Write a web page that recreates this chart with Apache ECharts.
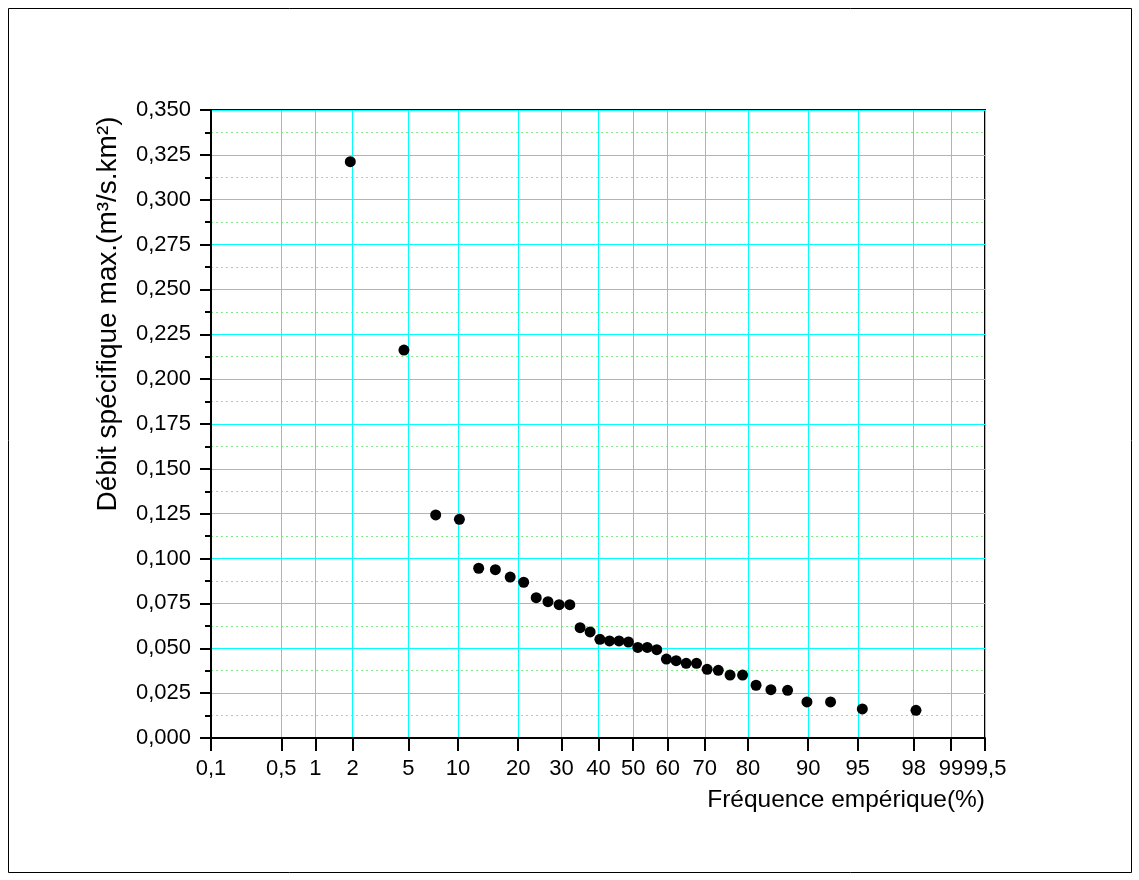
<!DOCTYPE html>
<html>
<head>
<meta charset="utf-8">
<script src="https://cdn.jsdelivr.net/npm/echarts@6/dist/echarts.min.js"></script>
<style>html,body{margin:0;padding:0;background:#fff;}#chart{width:1139px;height:880px;}</style>
</head>
<body>
<div id="chart"></div>
<script>
// Empirical frequency (%) of each observation
const frequence = [1.92, 4.67, 7.42, 10.17, 12.91, 15.66, 18.41, 21.15, 23.90, 26.65, 29.40, 32.14,
  34.89, 37.64, 40.38, 43.13, 45.88, 48.63, 51.37, 54.12, 56.87, 59.62, 62.36, 65.11,
  67.86, 70.60, 73.35, 76.10, 78.85, 81.59, 84.34, 87.09, 89.84, 92.58, 95.33, 98.08];
// Specific max discharge (m3/s.km2)
const debit = [0.3212, 0.2162, 0.1243, 0.1219, 0.0946, 0.0938, 0.0897, 0.0868, 0.0782, 0.0760, 0.0743, 0.0743,
  0.0615, 0.0591, 0.0550, 0.0541, 0.0541, 0.0535, 0.0505, 0.0505, 0.0492, 0.0440, 0.0431, 0.0416,
  0.0416, 0.0383, 0.0377, 0.0351, 0.0351, 0.0294, 0.0269, 0.0266, 0.0201, 0.0201, 0.0162, 0.0154];
// Probability-axis ticks (%)
const tickPercents = [0.1, 0.5, 1, 2, 5, 10, 20, 30, 40, 50, 60, 70, 80, 90, 95, 98, 99, 99.5];
const tickLabels = ['0,1', '0,5', '1', '2', '5', '10', '20', '30', '40', '50', '60', '70', '80', '90', '95', '98', '99', '99,5'];
const xMinPercent = 0.1, xMaxPercent = 99.5;
const yMin = 0, yMax = 0.35, yStep = 0.025;

// Normal probability scale (inverse normal CDF, Acklam)
function probit(p) {
  const a = [-3.969683028665376e+01, 2.209460984245205e+02, -2.759285104469687e+02, 1.383577518672690e+02, -3.066479806614716e+01, 2.506628277459239e+00];
  const b = [-5.447609879822406e+01, 1.615858368580409e+02, -1.556989798598866e+02, 6.680131188771972e+01, -1.328068155288572e+01];
  const c = [-7.784894002430293e-03, -3.223964580411365e-01, -2.400758277161838e+00, -2.549732539343734e+00, 4.374664141464968e+00, 2.938163982698783e+00];
  const d = [7.784695709041462e-03, 3.224671290700398e-01, 2.445134137142996e+00, 3.754408661907416e+00];
  const pl = 0.02425, ph = 1 - pl;
  let q, r;
  if (p < pl) {
    q = Math.sqrt(-2 * Math.log(p));
    return (((((c[0]*q+c[1])*q+c[2])*q+c[3])*q+c[4])*q+c[5]) / ((((d[0]*q+d[1])*q+d[2])*q+d[3])*q+1);
  }
  if (p <= ph) {
    q = p - 0.5; r = q * q;
    return (((((a[0]*r+a[1])*r+a[2])*r+a[3])*r+a[4])*r+a[5])*q / (((((b[0]*r+b[1])*r+b[2])*r+b[3])*r+b[4])*r+1);
  }
  q = Math.sqrt(-2 * Math.log(1 - p));
  return -(((((c[0]*q+c[1])*q+c[2])*q+c[3])*q+c[4])*q+c[5]) / ((((d[0]*q+d[1])*q+d[2])*q+d[3])*q+1);
}
const tickZ = tickPercents.map(p => probit(p / 100));
const FONT = "'Liberation Sans', Arial, sans-serif";

const chart = echarts.init(document.getElementById('chart'), null, {renderer: 'canvas'});
chart.setOption({
  backgroundColor: '#fff',
  animation: false,
  grid: {left: 211, right: 154, top: 110, bottom: 142, show: true, borderColor: '#000', borderWidth: 2, backgroundColor: 'transparent'},
  xAxis: {
    type: 'value',
    min: probit(xMinPercent / 100),
    max: probit(xMaxPercent / 100),
    axisLine: {show: true, onZero: false, lineStyle: {color: '#000', width: 2}},
    axisTick: {show: true, customValues: tickZ, length: 13, lineStyle: {color: '#000', width: 2}},
    axisLabel: {
      show: true, customValues: tickZ, margin: 20, color: '#000', fontSize: 22, fontFamily: FONT,
      formatter: function (v) {
        let best = 0, bd = Infinity;
        tickZ.forEach((z, i) => { const dd = Math.abs(z - v); if (dd < bd) { bd = dd; best = i; } });
        return tickLabels[best];
      }
    },
    splitLine: {show: true, lineStyle: {color: '#00ffff', width: 1}}
  },
  yAxis: {
    type: 'value',
    min: yMin, max: yMax, interval: yStep,
    axisLine: {show: true, onZero: false, lineStyle: {color: '#000', width: 2}},
    axisTick: {show: true, length: 11, lineStyle: {color: '#000', width: 2}},
    minorTick: {show: true, splitNumber: 2, length: 6, lineStyle: {color: '#000', width: 2}},
    axisLabel: {
      margin: 20, color: '#000', fontSize: 22, fontFamily: FONT,
      formatter: v => v.toFixed(3).replace('.', ',')
    },
    splitLine: {show: true, lineStyle: {color: '#00ffff', width: 1}},
    minorSplitLine: {show: true, lineStyle: {color: '#88e888', width: 1, type: [2, 3]}}
  },
  graphic: [
    {type: 'rect', shape: {x: 8.5, y: 8.5, width: 1123, height: 864}, style: {fill: 'none', stroke: '#000', lineWidth: 1}, silent: true, z: -1},
    {type: 'text', x: 985, y: 800, style: {text: 'Fréquence empérique(%)', font: "24.5px 'Liberation Sans', Arial, sans-serif", fill: '#000', textAlign: 'right', textVerticalAlign: 'middle'}},
    {type: 'text', x: 108, y: 314, rotation: Math.PI / 2, style: {text: 'Débit spécifique max.(m³/s.km²)', font: "28px 'Liberation Sans', Arial, sans-serif", fill: '#000', textAlign: 'center', textVerticalAlign: 'middle'}}
  ],
  series: [{
    type: 'scatter',
    symbol: 'circle',
    symbolSize: 11,
    itemStyle: {color: '#000', opacity: 1},
    data: frequence.map((f, i) => [probit(f / 100), debit[i]])
  }]
});
</script>
</body>
</html>
